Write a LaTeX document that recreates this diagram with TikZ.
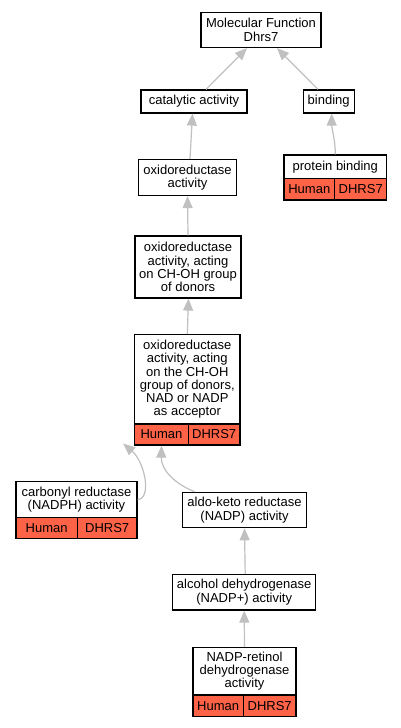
\documentclass[tikz,border=0pt]{standalone}
\usepackage{fontspec}
\setmainfont{Liberation Sans}
\usetikzlibrary{arrows.meta}
\definecolor{edgegray}{RGB}{192,192,192}
\definecolor{tomatored}{RGB}{255,99,71}
\begin{document}
\begin{tikzpicture}[x=1pt,y=-1pt,
  box/.style={draw=black,line width=1.2pt,fill=white,inner sep=0pt,align=center,font=\fontsize{13}{13.3}\selectfont},
  cell/.style={box,fill=tomatored},
  edge/.style={draw=edgegray,line width=1.2pt,-{Triangle[length=12pt,width=10pt]}}
]
\fill[white] (0,0) rectangle (401,728);
\useasboundingbox (0,0) rectangle (401,728);

\node[box,minimum width=120pt,minimum height=35pt] (mf) at (261,30) {Molecular Function\\Dhrs7};
\node[box,minimum width=106pt,minimum height=23pt] (cat) at (194,101.5) {catalytic activity};
\node[box,minimum width=51pt,minimum height=23pt] (bind) at (328.7,101.5) {binding};
\node[box,minimum width=98pt,minimum height=36pt] (oxi) at (187.5,177.5) {oxidoreductase\\activity};

\node[box,minimum width=102.7pt,minimum height=23.5pt] (pb) at (335.3,166.7) {protein binding};
\node[cell,minimum width=50.7pt,minimum height=21.5pt] (pbH) at (309.3,189.2) {Human};
\node[cell,minimum width=52pt,minimum height=21.5pt] (pbD) at (360.7,189.2) {DHRS7};

\node[box,minimum width=106pt,minimum height=62pt] (choh) at (188,267) {oxidoreductase\\activity, acting\\on CH-OH group\\of donors};

\node[box,minimum width=105.3pt,minimum height=89.3pt] (big) at (187.3,379.3) {oxidoreductase\\activity, acting\\on the CH-OH\\group of donors,\\NAD or NADP\\as acceptor};
\node[cell,minimum width=53.6pt,minimum height=21pt] (bigH) at (161.5,434.5) {Human};
\node[cell,minimum width=51.7pt,minimum height=21pt] (bigD) at (214.2,434.5) {DHRS7};

\node[box,minimum width=121pt,minimum height=35.6pt] (carb) at (76.5,499.5) {carbonyl reductase\\(NADPH) activity};
\node[cell,minimum width=61.3pt,minimum height=21pt] (carbH) at (46.7,527.8) {Human};
\node[cell,minimum width=59.7pt,minimum height=21pt] (carbD) at (107.2,527.8) {DHRS7};

\node[box,minimum width=124.4pt,minimum height=35.4pt] (aldo) at (244.5,510) {aldo-keto reductase\\(NADP) activity};
\node[box,minimum width=143pt,minimum height=35.7pt] (alc) at (244.2,592.2) {alcohol dehydrogenase\\(NADP+) activity};

\node[box,minimum width=103pt,minimum height=47.7pt] (ret) at (244.5,671.2) {NADP-retinol\\dehydrogenase\\activity};
\node[cell,minimum width=50.3pt,minimum height=21.7pt] (retH) at (218.2,705.8) {Human};
\node[cell,minimum width=52.7pt,minimum height=21.7pt] (retD) at (269.7,705.8) {DHRS7};

\draw[edge] ([xshift=12pt]cat.north) -- ([xshift=-14pt]mf.south);
\draw[edge] ([xshift=-10.7pt]bind.north) -- ([xshift=16pt]mf.south);
\draw[edge] ([xshift=2.5pt]oxi.north) -- ([xshift=-1.5pt]cat.south);
\draw[edge] (pb.north) .. controls ([xshift=0pt,yshift=15pt]pb.north) and ([xshift=3pt,yshift=-15pt]bind.south) .. ([xshift=3pt]bind.south);
\draw[edge] (choh.north) -- (oxi.south);
\draw[edge] (big.north) -- ([xshift=0.5pt]choh.south);
\draw[edge] (carb.east) .. controls (152,499) and (145,462) .. ([xshift=-11pt,yshift=2pt]bigH.south west);
\draw[edge] ([xshift=13pt]aldo.north west) .. controls (175,484) and (161,470) .. (bigH.south);
\draw[edge] ([xshift=1pt]alc.north) -- (aldo.south);
\draw[edge] (ret.north) -- (alc.south);
\end{tikzpicture}
\end{document}
